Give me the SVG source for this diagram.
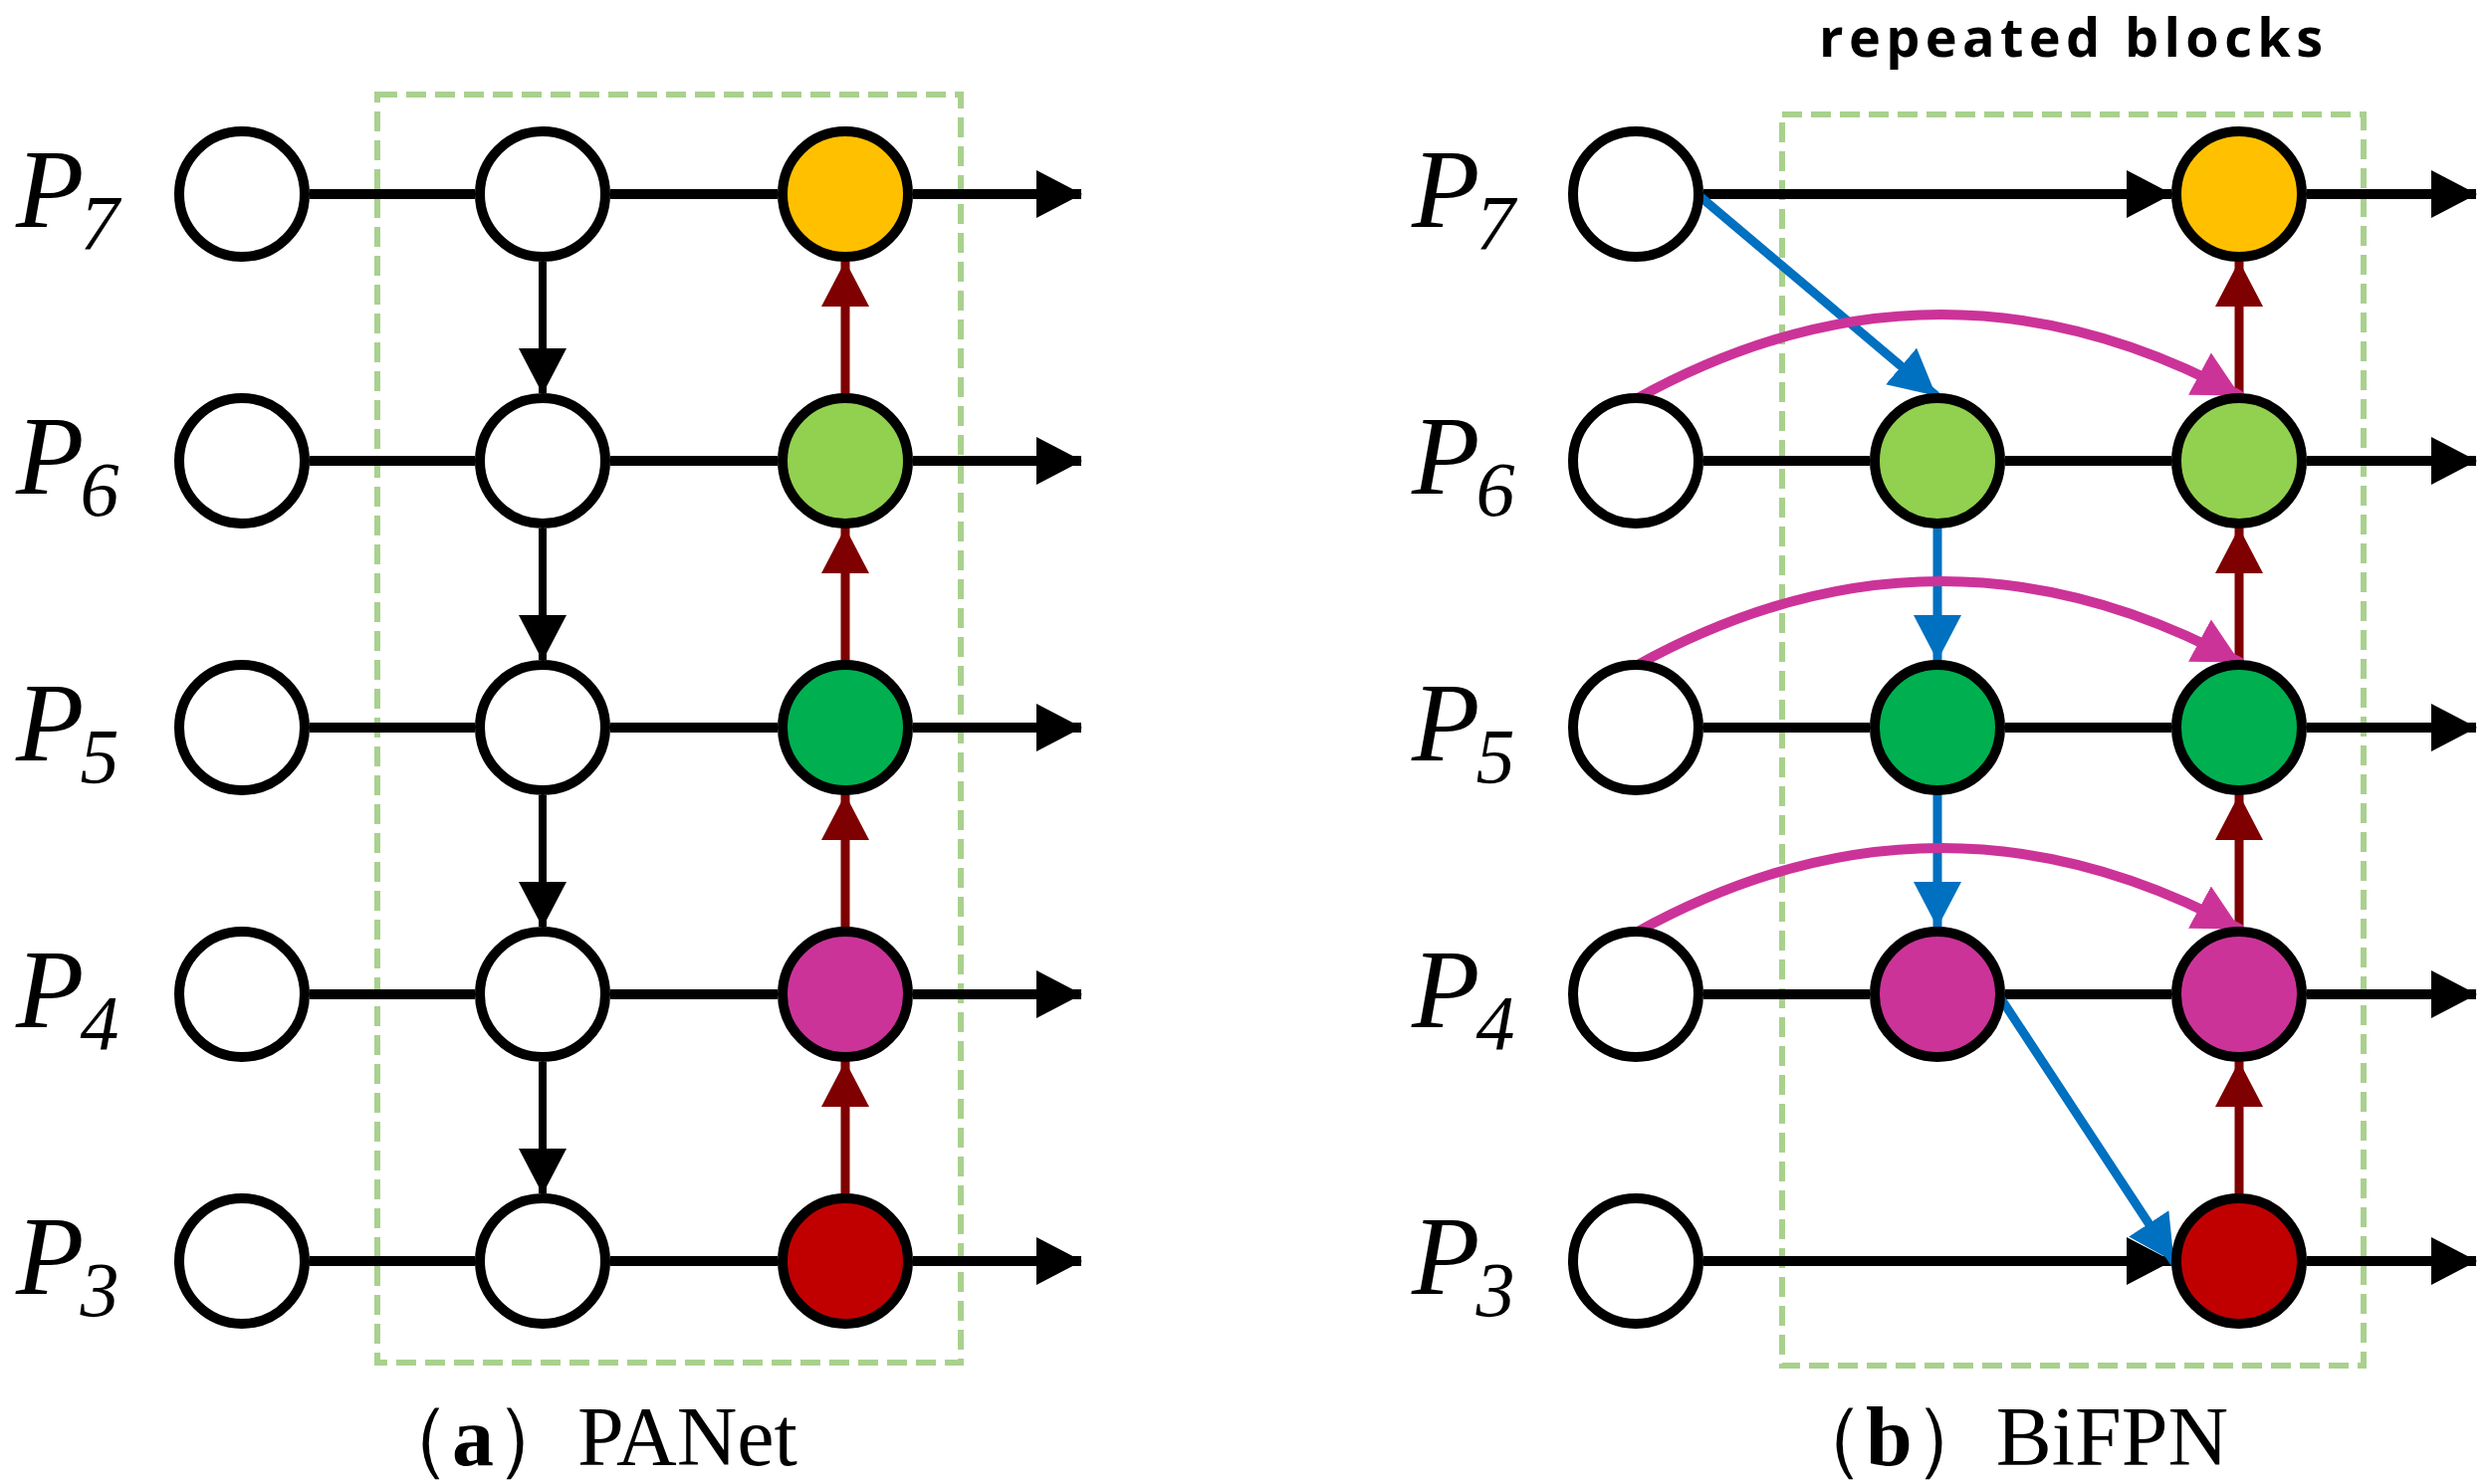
<svg xmlns="http://www.w3.org/2000/svg" width="2502" height="1491" viewBox="0 0 2502 1491">
<style>
.n{stroke:#000;stroke-width:10}
.k{stroke:#000;stroke-width:10;fill:none}
.r{stroke:#7F0000;stroke-width:9;fill:none}
.b{stroke:#0070C0;stroke-width:9;fill:none}
.m{stroke:#CC3399;stroke-width:10;fill:none}
.box{fill:none;stroke:#A9D18E;stroke-width:6;stroke-dasharray:20 9}
.P{font-family:"Liberation Serif",serif;font-style:italic;font-size:112px}
.s{font-size:78px}
.cap{font-family:"Liberation Serif",serif;font-size:84px}
</style>
<defs>
<marker id="ak" markerUnits="userSpaceOnUse" markerWidth="46" markerHeight="48" refX="45" refY="24" orient="auto"><path d="M0,0 L46,24 L0,48 z" fill="#000"/></marker>
<marker id="ar" markerUnits="userSpaceOnUse" markerWidth="46" markerHeight="48" refX="45" refY="24" orient="auto"><path d="M0,0 L46,24 L0,48 z" fill="#7F0000"/></marker>
<marker id="ab" markerUnits="userSpaceOnUse" markerWidth="46" markerHeight="48" refX="45" refY="24" orient="auto"><path d="M0,0 L46,24 L0,48 z" fill="#0070C0"/></marker>
<marker id="am" markerUnits="userSpaceOnUse" markerWidth="46" markerHeight="48" refX="45" refY="24" orient="auto"><path d="M0,0 L46,24 L0,48 z" fill="#CC3399"/></marker>
</defs>
<rect class="box" x="379" y="95" width="586" height="1274"/>
<rect class="box" x="1790" y="115" width="584" height="1257"/>
<g id="labels">
<text class="P" x="16" y="228">P<tspan class="s" dx="-4" dy="22">7</tspan></text>
<text class="P" x="16" y="496">P<tspan class="s" dx="-4" dy="22">6</tspan></text>
<text class="P" x="16" y="764">P<tspan class="s" dx="-4" dy="22">5</tspan></text>
<text class="P" x="16" y="1032">P<tspan class="s" dx="-4" dy="22">4</tspan></text>
<text class="P" x="16" y="1300">P<tspan class="s" dx="-4" dy="22">3</tspan></text>
<text class="P" x="1418" y="228">P<tspan class="s" dx="-4" dy="22">7</tspan></text>
<text class="P" x="1418" y="496">P<tspan class="s" dx="-4" dy="22">6</tspan></text>
<text class="P" x="1418" y="764">P<tspan class="s" dx="-4" dy="22">5</tspan></text>
<text class="P" x="1418" y="1032">P<tspan class="s" dx="-4" dy="22">4</tspan></text>
<text class="P" x="1418" y="1300">P<tspan class="s" dx="-4" dy="22">3</tspan></text>
<text class="cap" x="370" y="1472">（<tspan font-weight="bold">a</tspan>）PANet</text>
<text class="cap" x="1790" y="1472">（<tspan font-weight="bold">b</tspan>）BiFPN</text>
<text x="2080" y="57" text-anchor="middle" font-family="'Open Sans',sans-serif" font-weight="bold" font-size="54" textLength="506">repeated blocks</text>
</g>
<g id="connectors">
<!-- left panel -->
<path class="k" marker-end="url(#ak)" d="M311,195H477M613,195H781M917,195H1086"/>
<path class="k" marker-end="url(#ak)" d="M311,463H477M613,463H781M917,463H1086"/>
<path class="k" marker-end="url(#ak)" d="M311,731H477M613,731H781M917,731H1086"/>
<path class="k" marker-end="url(#ak)" d="M311,999H477M613,999H781M917,999H1086"/>
<path class="k" marker-end="url(#ak)" d="M311,1267H477M613,1267H781M917,1267H1086"/>
<g class="k" style="stroke-width:8" marker-end="url(#ak)">
<path d="M545,263V395"/><path d="M545,531V663"/><path d="M545,799V931"/><path d="M545,1067V1199"/>
</g>
<g class="r" marker-end="url(#ar)" stroke-linecap="round">
<path d="M849,1199V1067"/><path d="M849,931V799"/><path d="M849,663V531"/><path d="M849,395V263"/>
</g>
<!-- right panel -->
<path class="k" marker-end="url(#ak)" d="M1711,195H2181"/>
<path class="k" marker-end="url(#ak)" d="M2317,195H2487"/>
<path class="k" marker-end="url(#ak)" d="M1711,463H1878M2014,463H2181M2317,463H2487"/>
<path class="k" marker-end="url(#ak)" d="M1711,731H1878M2014,731H2181M2317,731H2487"/>
<path class="k" marker-end="url(#ak)" d="M1711,999H1878M2014,999H2181M2317,999H2487"/>
<path class="k" marker-end="url(#ak)" d="M1711,1267H2181"/>
<path class="k" marker-end="url(#ak)" d="M2317,1267H2487"/>
<g class="r" marker-end="url(#ar)" stroke-linecap="round">
<path d="M2249,1199V1067"/><path d="M2249,931V799"/><path d="M2249,663V531"/><path d="M2249,395V263"/>
</g>
<g class="b" marker-end="url(#ab)" stroke-linecap="round">
<path d="M1707,197L1944,397"/>
<path d="M1946,531V663"/><path d="M1946,799V931"/>
<path d="M2007,999L2183,1267"/>
</g>
<g class="m" marker-end="url(#am)" stroke-linecap="round">
<path d="M1643,401Q1946,233 2249,397"/>
<path d="M1643,669Q1946,501 2249,665"/>
<path d="M1643,937Q1946,769 2249,933"/>
</g>
</g>
<g id="nodes">
<g id="L7"><circle class="n" cx="243" cy="195" r="63" fill="#fff"/><circle class="n" cx="545" cy="195" r="63" fill="#fff"/><circle class="n" cx="849" cy="195" r="63" fill="#FFC000"/></g>
<g id="L6"><circle class="n" cx="243" cy="463" r="63" fill="#fff"/><circle class="n" cx="545" cy="463" r="63" fill="#fff"/><circle class="n" cx="849" cy="463" r="63" fill="#92D050"/></g>
<g id="L5"><circle class="n" cx="243" cy="731" r="63" fill="#fff"/><circle class="n" cx="545" cy="731" r="63" fill="#fff"/><circle class="n" cx="849" cy="731" r="63" fill="#00B050"/></g>
<g id="L4"><circle class="n" cx="243" cy="999" r="63" fill="#fff"/><circle class="n" cx="545" cy="999" r="63" fill="#fff"/><circle class="n" cx="849" cy="999" r="63" fill="#CC3399"/></g>
<g id="L3"><circle class="n" cx="243" cy="1267" r="63" fill="#fff"/><circle class="n" cx="545" cy="1267" r="63" fill="#fff"/><circle class="n" cx="849" cy="1267" r="63" fill="#C00000"/></g>
<g id="R7"><circle class="n" cx="1643" cy="195" r="63" fill="#fff"/><circle class="n" cx="2249" cy="195" r="63" fill="#FFC000"/></g>
<g id="R6"><circle class="n" cx="1643" cy="463" r="63" fill="#fff"/><circle class="n" cx="1946" cy="463" r="63" fill="#92D050"/><circle class="n" cx="2249" cy="463" r="63" fill="#92D050"/></g>
<g id="R5"><circle class="n" cx="1643" cy="731" r="63" fill="#fff"/><circle class="n" cx="1946" cy="731" r="63" fill="#00B050"/><circle class="n" cx="2249" cy="731" r="63" fill="#00B050"/></g>
<g id="R4"><circle class="n" cx="1643" cy="999" r="63" fill="#fff"/><circle class="n" cx="1946" cy="999" r="63" fill="#CC3399"/><circle class="n" cx="2249" cy="999" r="63" fill="#CC3399"/></g>
<g id="R3"><circle class="n" cx="1643" cy="1267" r="63" fill="#fff"/><circle class="n" cx="2249" cy="1267" r="63" fill="#C00000"/></g>
</g>
</svg>
